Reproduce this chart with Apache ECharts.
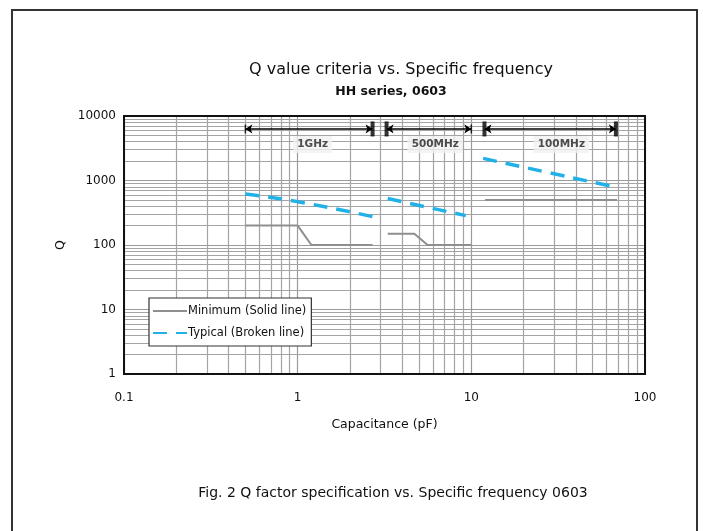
<!DOCTYPE html>
<html><head><meta charset="utf-8">
<script src="https://cdn.jsdelivr.net/npm/echarts@6/dist/echarts.min.js"></script>
<style>html,body{margin:0;padding:0;background:#fff}#c{width:703px;height:531px}</style>
</head><body><div id="c"></div>
<script>
// Q value criteria vs capacitance, HH series 0603
// each band: [capacitance pF, Q]
var typ1GHz = [[0.5, 620], [1.0, 470], [2.7, 275]];
var typ500MHz = [[3.3, 525], [9.3, 285]];
var typ100MHz = [[11.7, 2200], [69, 780]];

var min1GHz = [[0.5, 200], [1.0, 200], [1.2, 100], [2.7, 100]];
var min500MHz = [[3.3, 150], [4.7, 150], [5.6, 100], [10, 100]];
var min100MHz = [[12, 500], [69, 500]];

// frequency band markers at the top
var bandNames = ['1GHz', '500MHz', '100MHz'];
var bandFrom = [0.5, 3.25, 11.9];
var bandTo = [2.7, 10, 68];
var bandLabelX = [1.22, 6.2, 33];
var bandArrowQ = 6300;
var bandLabelQ = 3600;

var xTicks = [0.1, 1, 10, 100];
var yTicks = [1, 10, 100, 1000, 10000];

var FONT = 'DejaVu Sans';
var BLUE = '#22b1e6';
var GREY = '#8f8f8f';

// grid lines at 2..9 of every decade
function gridVals(lo, hi) {
  var out = [];
  for (var d = lo; d < hi - 1e-9; d *= 10) {
    for (var k = 2; k <= 9; k++) out.push(+(k * d).toPrecision(3));
  }
  return out;
}
var xGrid = gridVals(0.1, 100);
var yGrid = gridVals(1, 10000);

var series = [];

// grid drawn as markLines through the axes
series.push({
  type: 'line', data: [], silent: true, z: 1,
  markLine: {
    silent: true, symbol: 'none', label: {show: false},
    lineStyle: {color: '#a4a4a4', width: 1.2, type: 'solid'},
    data: xGrid.map(function (v) { return {xAxis: v}; })
      .concat(yGrid.map(function (v) { return {yAxis: v}; }))
  }
});

function minSeries(d) {
  return {name: 'Minimum (Solid line)', type: 'line', data: d, symbol: 'none', z: 5,
    lineStyle: {color: GREY, width: 2}, itemStyle: {color: GREY}};
}
function typSeries(d) {
  return {name: 'Typical (Broken line)', type: 'line', data: d, symbol: 'none', smooth: true, z: 6,
    lineStyle: {color: BLUE, width: 3.5, type: [14, 9]}, itemStyle: {color: BLUE}};
}
series.push(minSeries(min1GHz), minSeries(min500MHz), minSeries(min100MHz));
series.push(typSeries(typ1GHz), typSeries(typ500MHz), typSeries(typ100MHz));

// band arrows
series.push({
  type: 'lines', coordinateSystem: 'cartesian2d', z: 8, silent: true,
  symbol: ['arrow', 'arrow'], symbolSize: 7,
  lineStyle: {color: '#000', width: 1.5, opacity: 1},
  data: bandNames.map(function (n, i) {
    return {coords: [[bandFrom[i], bandArrowQ], [bandTo[i], bandArrowQ]]};
  })
});
// thick end bars and thin end ticks
series.push({
  type: 'scatter', symbol: 'rect', symbolSize: [4, 15], z: 9, silent: true,
  itemStyle: {color: '#000'},
  data: [[bandTo[0], bandArrowQ], [bandFrom[1], bandArrowQ], [bandFrom[2], bandArrowQ], [bandTo[2], bandArrowQ]]
});
series.push({
  type: 'scatter', symbol: 'rect', symbolSize: [1.5, 9], z: 9, silent: true,
  itemStyle: {color: '#000'},
  data: [[bandFrom[0], bandArrowQ], [bandTo[1], bandArrowQ]]
});
// band labels
series.push({
  type: 'scatter', symbolSize: 0, z: 9, silent: true,
  data: bandNames.map(function (n, i) { return {value: [bandLabelX[i], bandLabelQ], name: n}; }),
  label: {show: true, position: 'inside', formatter: '{b}', fontFamily: FONT, fontSize: 10.5,
    fontWeight: 'bold', color: '#222', backgroundColor: '#f1f1f1', padding: [3, 4]}
});

var chart = echarts.init(document.getElementById('c'));
chart.setOption({
  animation: false,
  title: [
    {text: 'Q value criteria vs. Specific frequency', left: 396, top: 57, textAlign: 'center',
      textStyle: {fontFamily: FONT, fontSize: 16, fontWeight: 'normal', color: '#111'}},
    {text: 'HH series, 0603', left: 386, top: 80, textAlign: 'center',
      textStyle: {fontFamily: FONT, fontSize: 12.5, fontWeight: 'bold', color: '#111'}},
    {text: 'Fig. 2 Q factor specification vs. Specific frequency 0603', left: 388, top: 481, textAlign: 'center',
      textStyle: {fontFamily: FONT, fontSize: 14, fontWeight: 'normal', color: '#111'}}
  ],
  legend: {
    orient: 'vertical', left: 149, top: 298, z: 20,
    data: ['Minimum (Solid line)', 'Typical (Broken line)'],
    backgroundColor: '#fff', borderColor: '#333', borderWidth: 1.2,
    padding: [7, 5, 7, 3], itemGap: 10, itemWidth: 34, itemHeight: 10,
    itemStyle: {opacity: 0},
    textStyle: {fontFamily: FONT, fontSize: 11.5, color: '#111', padding: [0, 0, 0, -4]}
  },
  graphic: [{
    type: 'rect', shape: {x: 12, y: 10, width: 685, height: 560}, z: 0,
    style: {fill: null, stroke: '#333', lineWidth: 2}, silent: true
  }],
  grid: {left: 124, right: 58, top: 116, bottom: 157, show: true, borderColor: '#111', borderWidth: 2, z: 10},
  xAxis: {
    type: 'log', logBase: 10, min: xTicks[0], max: xTicks[xTicks.length - 1],
    name: 'Capacitance (pF)', nameLocation: 'middle', nameGap: 44,
    nameTextStyle: {fontFamily: FONT, fontSize: 12.5, color: '#111'},
    axisLine: {show: false}, axisTick: {show: false},
    splitLine: {show: true, lineStyle: {color: '#9a9a9a', width: 1.2}},
    axisLabel: {margin: 18, fontFamily: FONT, fontSize: 12, color: '#111',
      formatter: function (v) { return String(+v.toPrecision(3)); }}
  },
  yAxis: {
    type: 'log', logBase: 10, min: yTicks[0], max: yTicks[yTicks.length - 1],
    name: 'Q', nameLocation: 'middle', nameGap: 53, nameRotate: 90,
    nameTextStyle: {fontFamily: FONT, fontSize: 12.5, color: '#111'},
    axisLine: {show: false}, axisTick: {show: false},
    splitLine: {show: true, lineStyle: {color: '#9a9a9a', width: 1.2}},
    axisLabel: {margin: 8, fontFamily: FONT, fontSize: 12, color: '#111',
      formatter: function (v) { return String(Math.round(v)); }}
  },
  series: series
});
</script></body></html>
